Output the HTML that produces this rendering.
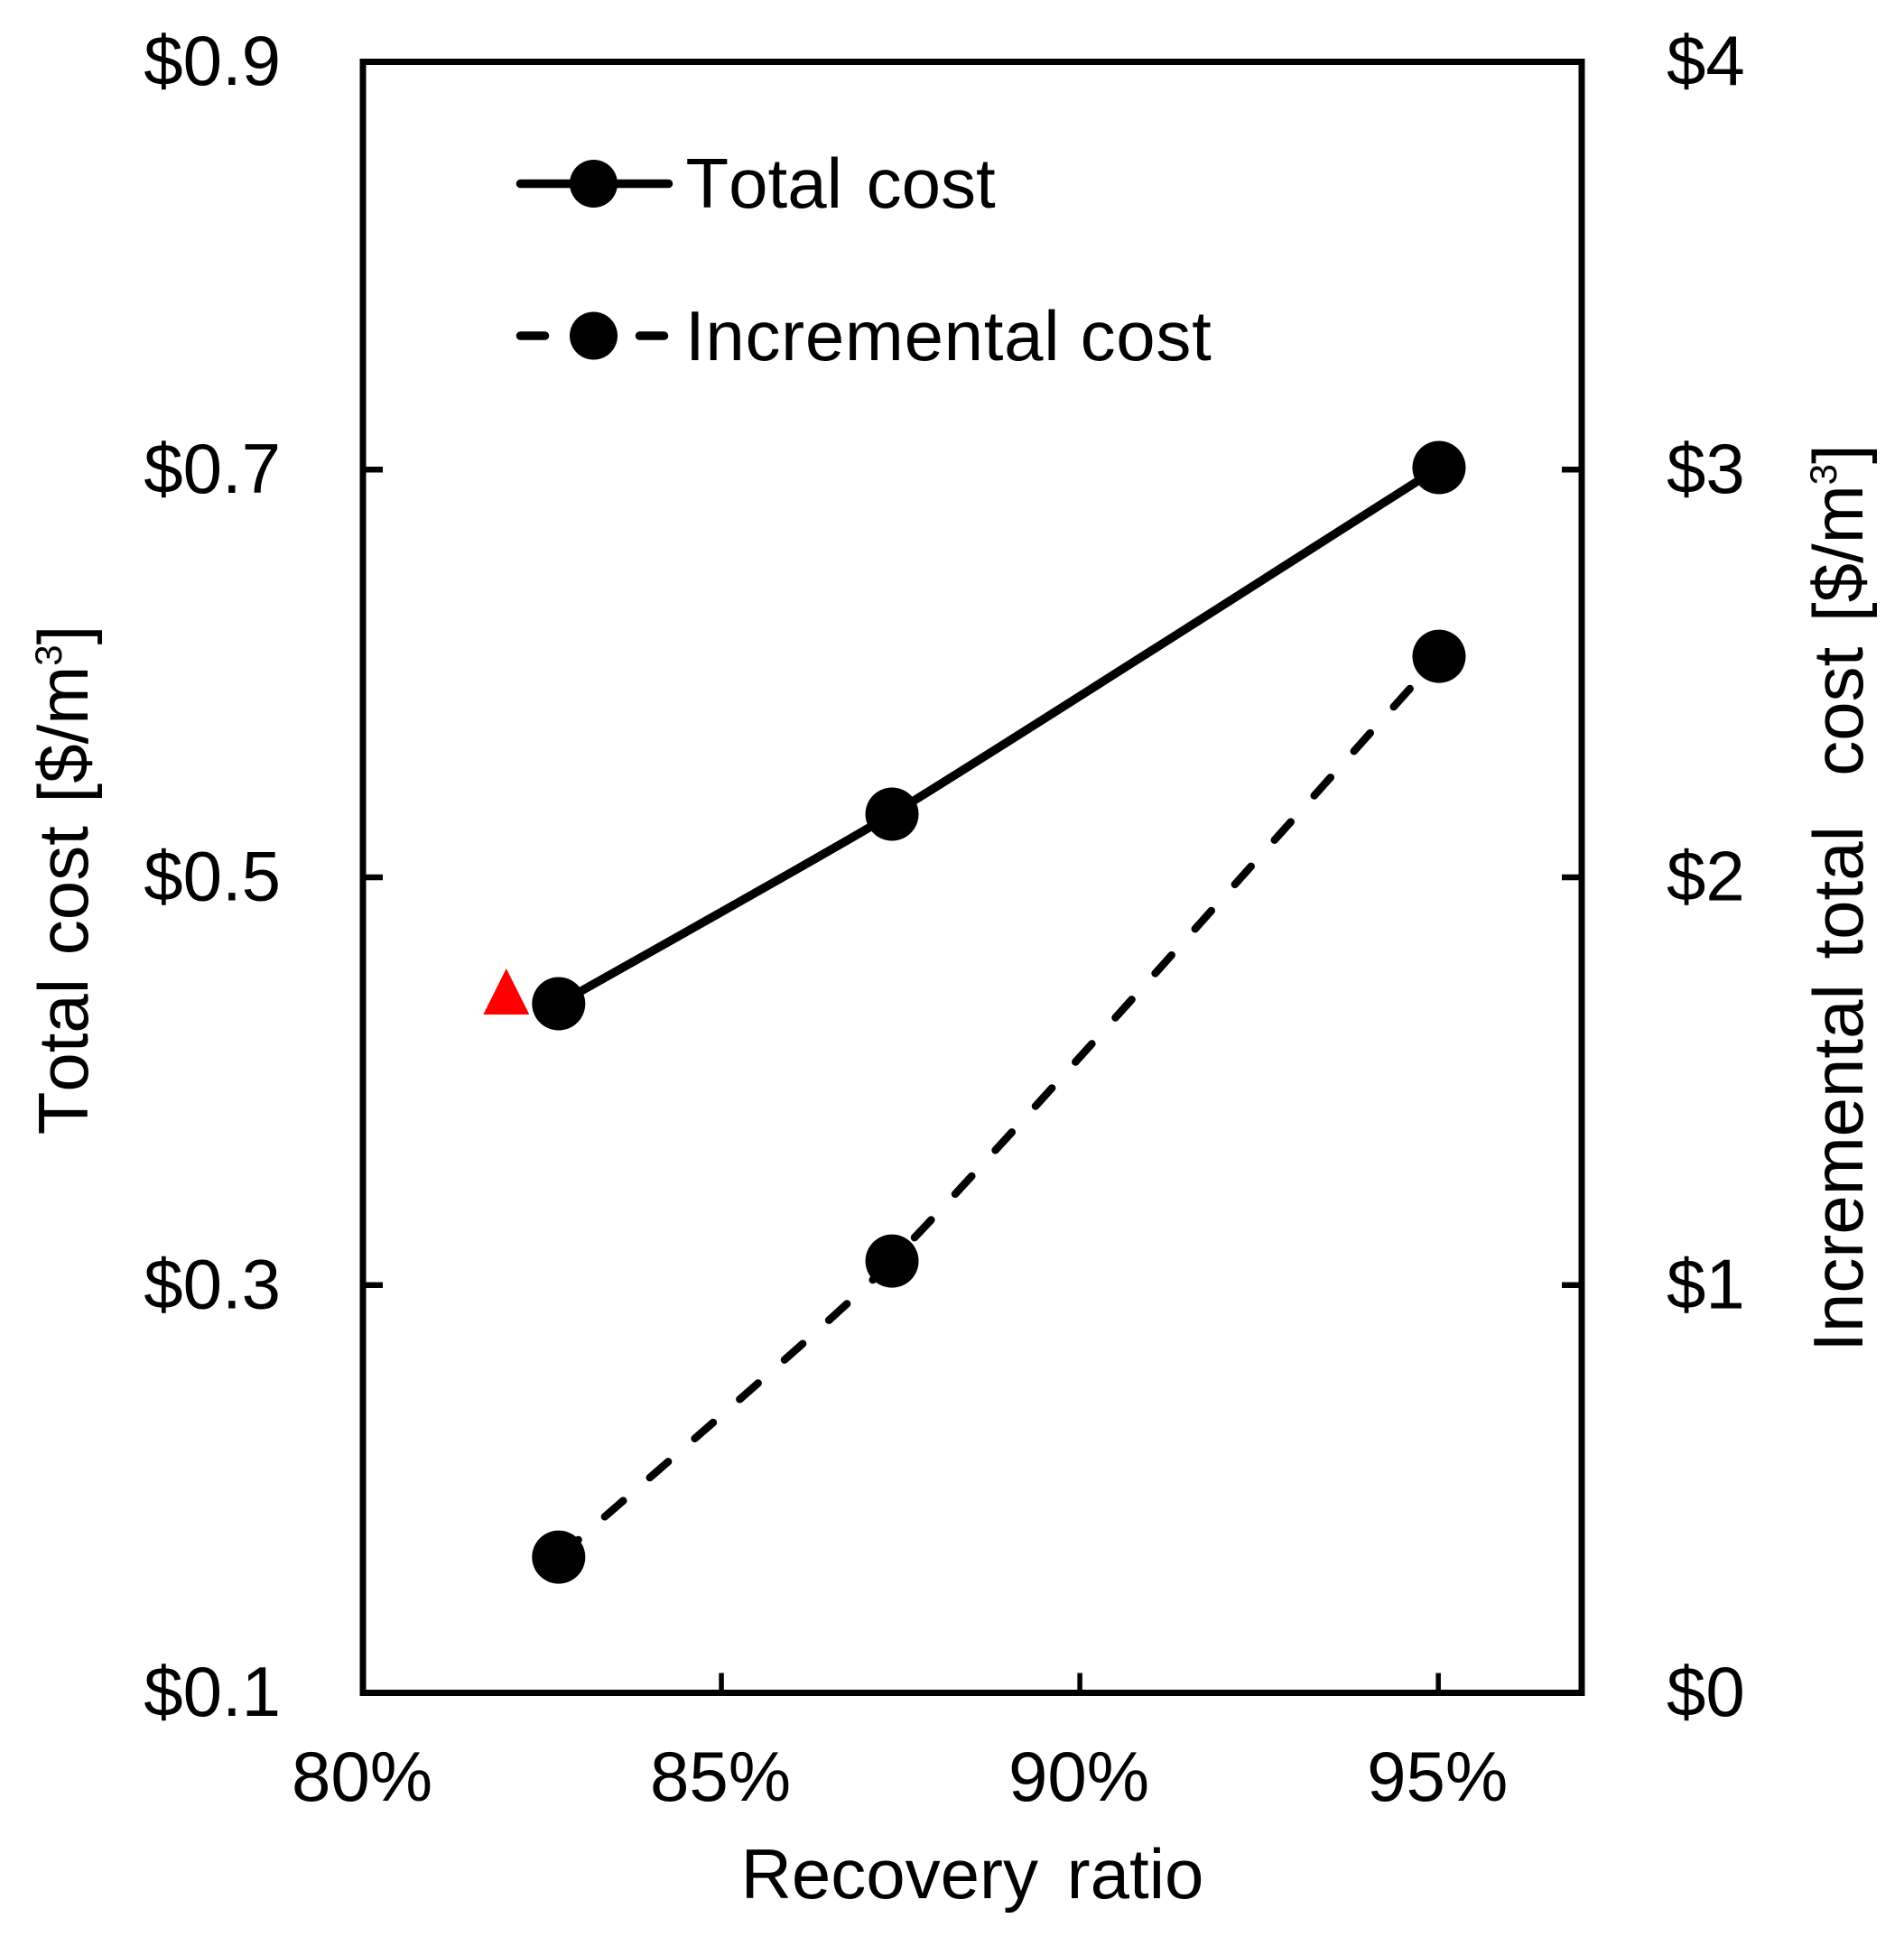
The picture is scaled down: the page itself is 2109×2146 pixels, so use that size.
<!DOCTYPE html>
<html lang="en">
<head>
<meta charset="utf-8">
<title>Total and incremental cost vs recovery ratio</title>
<style>
html,body{margin:0;padding:0;background:#fff;}
svg{display:block;}
text{font-family:"Liberation Sans",Arial,sans-serif;fill:#000;font-size:78px;white-space:pre;font-kerning:none;}
</style>
</head>
<body>
<svg id="chart" xmlns="http://www.w3.org/2000/svg" width="2109" height="2146" viewBox="0 0 2109 2146">
  <rect x="0" y="0" width="2109" height="2146" fill="#fff"/>
  <g id="series-layer"></g>
  <rect x="402" y="68.5" width="1350" height="1807" fill="none" stroke="#000" stroke-width="7"/>
  <g id="axis-layer"></g>

  <g>
    <g>
      <line x1="576.5" y1="203.5" x2="740.5" y2="203.5" stroke="#000" stroke-width="9.5" stroke-linecap="round"/>
      <circle cx="657.5" cy="203.5" r="26.5" fill="#000"/>
      <text x="759.5" y="230" word-spacing="5">Total cost</text>
    </g>
    <g>
      <line x1="576.5" y1="372" x2="738" y2="372" stroke="#000" stroke-width="9.5" stroke-dasharray="27 39" stroke-linecap="round"/>
      <circle cx="657.5" cy="372" r="26.5" fill="#000"/>
      <text x="759" y="399" letter-spacing="0.7">Incremental cost</text>
    </g>
  </g>

  <text x="1077" y="2103" text-anchor="middle" word-spacing="10">Recovery ratio</text>
  <text transform="translate(97,975) rotate(-90)" text-anchor="middle" word-spacing="4">Total cost [$/m<tspan font-size="42" dy="-29">3</tspan><tspan dy="29">]</tspan></text>
  <text transform="translate(2063,995) rotate(-90)" text-anchor="middle" word-spacing="6">Incremental total  cost [$/m<tspan font-size="42" dy="-29">3</tspan><tspan dy="29">]</tspan></text>
</svg>
<script>
const xCategories = [82.73, 87.38, 95.01];
const totalCost = [0.438, 0.531, 0.701];
const incrementalCost = [0.333, 1.059, 2.542];
const referenceX = [82];
const referenceCost = [0.444];
const xTicks = [80, 85, 90, 95];
const xTickLabels = ['80%', '85%', '90%', '95%'];
const leftTicks = [0.9, 0.7, 0.5, 0.3, 0.1];
const leftTickLabels = ['$0.9', '$0.7', '$0.5', '$0.3', '$0.1'];
const rightTicks = [4, 3, 2, 1, 0];
const rightTickLabels = ['$4', '$3', '$2', '$1', '$0'];

const PLOT = {left: 402, right: 1752, top: 68.5, bottom: 1875.5};
const X_DOMAIN = [80, 97];
const LEFT_DOMAIN = [0.1, 0.9];
const RIGHT_DOMAIN = [0, 4];

function xScale(v) {
  return PLOT.left + (v - X_DOMAIN[0]) / (X_DOMAIN[1] - X_DOMAIN[0]) * (PLOT.right - PLOT.left);
}
function yLeft(v) {
  return PLOT.bottom - (v - LEFT_DOMAIN[0]) / (LEFT_DOMAIN[1] - LEFT_DOMAIN[0]) * (PLOT.bottom - PLOT.top);
}
function yRight(v) {
  return PLOT.bottom - (v - RIGHT_DOMAIN[0]) / (RIGHT_DOMAIN[1] - RIGHT_DOMAIN[0]) * (PLOT.bottom - PLOT.top);
}
// gently smoothed path through the points, as in a spreadsheet "smoothed line"
function smoothPath(pts) {
  function unitTangent(i) {
    const a = pts[Math.max(i - 1, 0)];
    const b = pts[Math.min(i + 1, pts.length - 1)];
    const dx = b[0] - a[0];
    const dy = b[1] - a[1];
    const len = Math.hypot(dx, dy) || 1;
    return [dx / len, dy / len];
  }
  let d = 'M' + pts[0][0] + ' ' + pts[0][1];
  for (let i = 0; i < pts.length - 1; i++) {
    const p = pts[i];
    const q = pts[i + 1];
    const h = Math.hypot(q[0] - p[0], q[1] - p[1]) * 0.18;
    const t0 = unitTangent(i);
    const t1 = unitTangent(i + 1);
    d += ' C' + (p[0] + t0[0] * h) + ' ' + (p[1] + t0[1] * h) + ' ' +
         (q[0] - t1[0] * h) + ' ' + (q[1] - t1[1] * h) + ' ' + q[0] + ' ' + q[1];
  }
  return d;
}
const NS = 'http://www.w3.org/2000/svg';
function mk(tag, parent, props) {
  const node = document.createElementNS(NS, tag);
  for (const k in props) node.setAttribute(k, props[k]);
  parent.appendChild(node);
  return node;
}
const seriesLayer = document.getElementById('series-layer');
const axisLayer = document.getElementById('axis-layer');

// axis ticks and labels
xTicks.forEach(function (t, i) {
  if (t > X_DOMAIN[0]) {
    const tick = mk('line', axisLayer, {x1: xScale(t), x2: xScale(t), y1: PLOT.bottom, y2: PLOT.bottom - 22, stroke: '#000', 'stroke-width': 5.5});
    
    
  }
  const label = mk('text', axisLayer, {x: xScale(t) - 1, y: 1995, 'text-anchor': 'middle'});
  label.textContent = xTickLabels[i];
  
  
});
leftTicks.forEach(function (t, i) {
  if (t > LEFT_DOMAIN[0] && t < LEFT_DOMAIN[1]) {
    const tick = mk('line', axisLayer, {x1: PLOT.left, x2: PLOT.left + 22, y1: yLeft(t), y2: yLeft(t), stroke: '#000', 'stroke-width': 6.5});
    
    
  }
  const label = mk('text', axisLayer, {x: 311, y: yLeft(t) + 25.5, 'text-anchor': 'end'});
  label.textContent = leftTickLabels[i];
  
  
});
rightTicks.forEach(function (t, i) {
  if (t > RIGHT_DOMAIN[0] && t < RIGHT_DOMAIN[1]) {
    const tick = mk('line', axisLayer, {x1: PLOT.right, x2: PLOT.right - 22, y1: yRight(t), y2: yRight(t), stroke: '#000', 'stroke-width': 6.5});
    
    
  }
  const label = mk('text', axisLayer, {x: 1846, y: yRight(t) + 25.5, 'text-anchor': 'start'});
  label.textContent = rightTickLabels[i];
  
  
});

// series lines
const totalPath = mk('path', seriesLayer, {
  d: smoothPath(xCategories.map(function (x, i) { return [xScale(x), yLeft(totalCost[i])]; })),
  fill: 'none', stroke: '#000', 'stroke-width': 9.5
});



const incrementalPath = mk('path', seriesLayer, {
  d: smoothPath(xCategories.map(function (x, i) { return [xScale(x), yRight(incrementalCost[i])]; })),
  fill: 'none', stroke: '#000', 'stroke-width': 8.5, 'stroke-linecap': 'round',
  'stroke-dasharray': '27 39', 'stroke-dashoffset': -2
});



// series markers
xCategories.forEach(function (x, i) {
  const dot = mk('circle', seriesLayer, {cx: xScale(x), cy: yLeft(totalCost[i]), r: 29.5, fill: '#000'});
  
  
});
xCategories.forEach(function (x, i) {
  const dot = mk('circle', seriesLayer, {cx: xScale(x), cy: yRight(incrementalCost[i]), r: 29.5, fill: '#000'});
  
  
});

// reference triangle marker
referenceX.forEach(function (x, i) {
  const cx = xScale(x);
  const cy = yLeft(referenceCost[i]);
  const tri = mk('polygon', seriesLayer, {
    points: (cx - 25.5) + ',' + (cy + 25.5) + ' ' + (cx + 25.5) + ',' + (cy + 25.5) + ' ' + cx + ',' + (cy - 25.5),
    fill: '#ff0000'
  });
  
  
});
</script>
</body>
</html>
